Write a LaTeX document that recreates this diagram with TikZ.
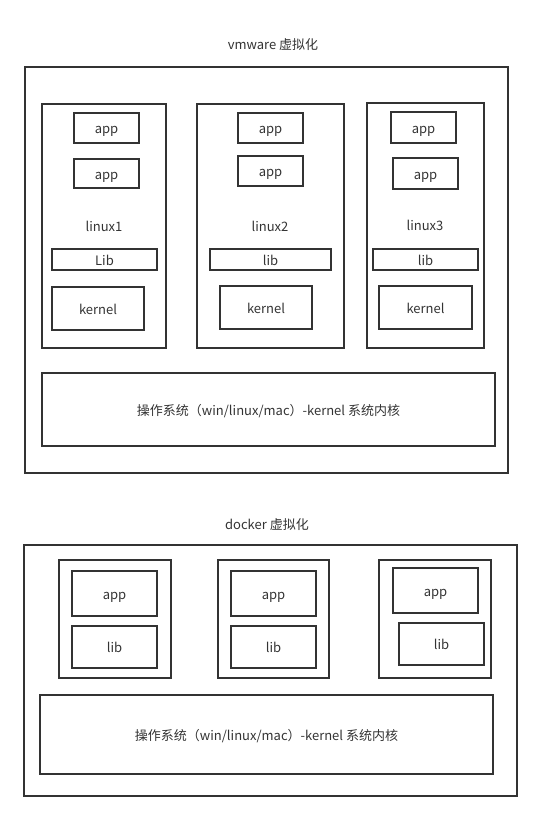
\documentclass[tikz,border=0pt]{standalone}
\usepackage{fontspec}
\setmainfont{Noto Sans CJK SC}
\usetikzlibrary{positioning}
\definecolor{linegray}{HTML}{333333}
\tikzstyle{title} = [text centered, text=linegray, inner sep=0pt, text height=11pt, text depth=0pt]
\tikzstyle{frame} = [rectangle, draw=linegray, line width=1.6pt, inner sep=0pt]
\tikzstyle{appbox} = [rectangle, minimum width=65pt, minimum height=30pt, text centered, draw=linegray, line width=1.6pt, text=linegray, inner sep=0pt, text height=11pt, text depth=0pt]
\tikzstyle{libbox} = [rectangle, minimum height=21pt, text centered, draw=linegray, line width=1.6pt, text=linegray, inner sep=0pt, text height=11pt, text depth=0pt]
\tikzstyle{kernelbox} = [rectangle, minimum width=92pt, minimum height=43pt, text centered, draw=linegray, line width=1.6pt, text=linegray, inner sep=0pt, text height=11pt, text depth=0pt]
\tikzstyle{osbox} = [rectangle, minimum width=453pt, text centered, draw=linegray, line width=1.6pt, text=linegray, inner sep=0pt, text height=11pt, text depth=0pt]
\tikzstyle{dockbox} = [rectangle, minimum width=85pt, text centered, draw=linegray, line width=1.6pt, text=linegray, inner sep=0pt, text height=11pt, text depth=0pt]

\begin{document}
\begin{tikzpicture}[x=1pt, y=-1pt, font=\fontsize{13}{15}\selectfont]
		\useasboundingbox (0,0) rectangle (541,820);
		% vmware
		\node (vmtitle) [title] at (273,44) {vmware 虚拟化};
		\node (vm) [frame, minimum width=483pt, minimum height=406pt] at (266.5,270) {};
		\node (linux1) [frame, minimum width=124pt, minimum height=244pt] at (104,226) {};
		\node (app11) [appbox] at (106.5,128) {app};
		\node (app12) [appbox, minimum height=29pt] at (106.5,173.5) {app};
		\node (name1) [title] at (104,226) {linux1};
		\node (lib1) [libbox, minimum width=105pt] at (104.5,259.5) {Lib};
		\node (kernel1) [kernelbox] at (98,308.5) {kernel};
		\node (linux2) [frame, minimum width=147pt, minimum height=244pt] at (270.5,226) {};
		\node (app21) [appbox] at (270.5,128) {app};
		\node (app22) [appbox] at (270.5,171) {app};
		\node (name2) [title] at (270,226) {linux2};
		\node (lib2) [libbox, minimum width=121pt] at (270.5,259.5) {lib};
		\node (kernel2) [kernelbox] at (266,307.5) {kernel};
		\node (linux3) [frame, minimum width=117pt, minimum height=245pt] at (425.5,225.5) {};
		\node (app31) [appbox, minimum height=31pt] at (423.5,127.5) {app};
		\node (app32) [appbox, minimum height=31pt] at (425.5,173.5) {app};
		\node (name3) [title] at (425,225) {linux3};
		\node (lib3) [libbox, minimum width=105pt] at (425.5,259.5) {lib};
		\node (kernel3) [kernelbox, minimum width=93pt] at (425.5,307.5) {kernel};
		\node (vmos) [osbox, minimum height=73pt] at (268.5,409.5) {操作系统（win/linux/mac）-kernel 系统内核};
		% docker
		\node (dktitle) [title] at (267,524) {docker 虚拟化};
		\node (dk) [frame, minimum width=493pt, minimum height=251pt] at (270.5,670.5) {};
		\node (box1) [frame, minimum width=112pt, minimum height=118pt] at (115,619) {};
		\node (dapp1) [dockbox, minimum height=45pt] at (114.5,593.5) {app};
		\node (dlib1) [dockbox, minimum height=42pt] at (114.5,647) {lib};
		\node (box2) [frame, minimum width=111pt, minimum height=118pt] at (273.5,619) {};
		\node (dapp2) [dockbox, minimum height=45pt] at (273.5,593.5) {app};
		\node (dlib2) [dockbox, minimum height=42pt] at (273.5,647) {lib};
		\node (box3) [frame, minimum width=112pt, minimum height=118pt] at (435,619) {};
		\node (dapp3) [dockbox, minimum height=45pt] at (435.5,590.5) {app};
		\node (dlib3) [dockbox, minimum height=42pt] at (441.5,644) {lib};
		\node (dkos) [osbox, minimum height=79pt] at (266.5,734.5) {操作系统（win/linux/mac）-kernel 系统内核};
\end{tikzpicture}
\end{document}
